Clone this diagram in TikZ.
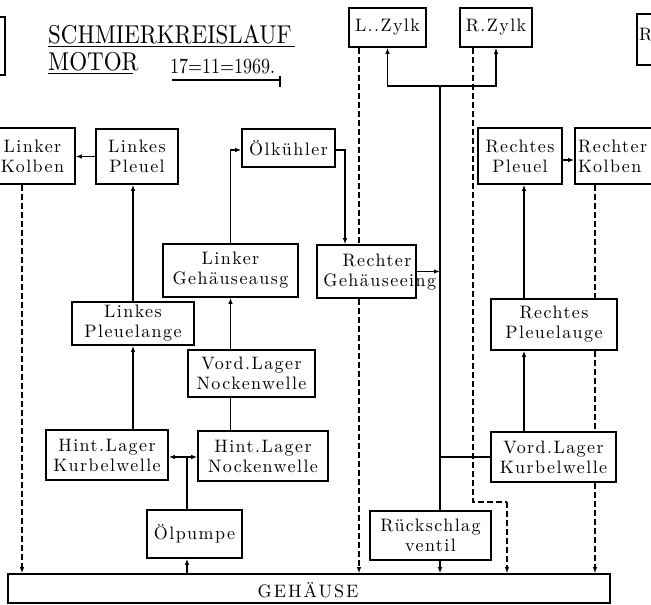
\documentclass[tikz,border=0pt]{standalone}
\usepackage{fontspec}
\usetikzlibrary{arrows.meta,calc}
\newfontfamily\spfont{lmroman10-regular.otf}[LetterSpace=8]
\newfontfamily\gfont{lmroman10-regular.otf}[LetterSpace=11]
\newfontfamily\tfont{lmroman10-regular.otf}
\newcommand\bx[6]{\node[box,minimum width=#4pt,minimum height=#5pt] (#1) at (#2,#3) {};\node[txt] (#1-t) at (#1) {#6};}
\begin{document}
\begin{tikzpicture}[x=1pt,y=-1pt,
 box/.style={draw,line width=1.6pt,fill=white,inner sep=0pt},
 txt/.style={inner sep=0pt,align=center,font=\spfont\fontsize{18}{20}\selectfont},
 tip/.style={-{Latex[length=6pt,width=4.5pt]}},
 arr/.style={line width=1.4pt,tip},
 ln/.style={line width=1.4pt},
 dsh/.style={line width=1.6pt,dash pattern=on 6pt off 3pt},
 darr/.style={dsh,tip}]
\useasboundingbox (0,0) rectangle (651,605);
\clip (0,0) rectangle (651,605);

% title
\node[anchor=base west,inner sep=0pt,font=\tfont\fontsize{23}{24}\selectfont] (title) at (48,43) {\scalebox{1}[1.12]{SCHMIERKREISLAUF}};
\node[anchor=base west,inner sep=0pt,font=\tfont\fontsize{23}{24}\selectfont] (motor) at (48,70) {\scalebox{1}[1.12]{MOTOR}};
\node[anchor=base west,inner sep=0pt,font=\tfont\fontsize{18}{20}\selectfont] (date) at (170,73) {\scalebox{1}[1.2]{17=11=1969.}};
\draw[line width=1.2pt] (title.base west) ++(0,3.5) -- ++(247,0);
\draw[line width=1.2pt] (motor.base west) ++(0,3.5) -- ++(85,0);
\draw[line width=1.2pt] (date.base west) ++(2,7) -- ++(108,0) coordinate (u3) -- ++(0,7);
\draw[line width=1.2pt] (u3) -- ++(0,-4);

% boxes
\bx{TL}{-7.5}{46}{25}{58}{}
\bx{LK}{32.5}{156}{85}{56}{Linker\\Kolben}
\bx{LP}{137}{156.5}{82}{55}{Linkes\\Pleuel}
\bx{OK}{288.5}{148}{93}{38}{Ölkühler}
\bx{LG}{230.5}{270.5}{135}{53}{Linker\\Gehäuseausg}
\bx{RG}{366.5}{271.5}{99}{53}{}
\node[txt] (RG-t) at (383,272) {\hspace*{-12pt}Rechter\\Gehäuseeing.};
\bx{LPA}{133}{323.5}{122}{43}{Linkes\\Pleuelange}
\bx{VN}{251.5}{373.5}{127}{47}{Vord.Lager\\Nockenwelle}
\bx{HK}{107}{455}{122}{50}{Hint.Lager\\Kurbelwelle}
\bx{HN}{263}{456}{130}{50}{Hint.Lager\\Nockenwelle}
\bx{OP}{194.5}{534}{95}{48}{Ölpumpe}
\bx{RV}{430.5}{535.5}{121}{49}{Rückschlag\\ventil}
\bx{RP}{520}{156}{84}{56}{Rechtes\\Pleuel}
\bx{RK}{622.5}{156}{95}{56}{}
\node[txt,anchor=west,align=left] (RK-t) at (578,156) {Rechter\\Kolben};
\bx{RPA}{554}{324.5}{126}{51}{Rechtes\\Pleuelauge}
\bx{VK}{553.5}{457}{125}{50}{Vord.Lager\\Kurbelwelle}
\bx{LZ}{387.5}{27.5}{77}{39}{L..Zylk}
\bx{RZ}{496}{27.5}{72}{39}{R.Zylk}
\bx{RC}{658.5}{39.5}{43}{51}{}
\node[txt,anchor=west] (RC-t) at (639,35) {R};
\node[draw,line width=1.6pt,fill=white,inner sep=0pt,minimum width=602pt,minimum height=29pt] (GH) at (309,588.5) {};
\node[inner sep=0pt,font=\gfont\fontsize{18}{18}\selectfont] (GH-t) at (308,590) {GEHÄUSE};

% coordinates
\coordinate (spt) at (440,86);
\coordinate (jn) at (187,457);
\coordinate (rzb) at (507,502);

% solid connectors
\draw[arr] (LP.west) -- (LP.west -| LK.east);
\draw[arr] (LPA.north) -- (LPA.north |- LP.south);
\draw[arr] (LPA.south |- HK.north) -- (LPA.south);
\draw[arr] (LG.south |- VN.north) -- (LG.south);
\draw[ln] (LG.south |- VN.south) -- (LG.south |- HN.north);
\draw[arr] (LG.north) |- ([yshift=-2pt]OK.west);
\draw[arr] ([yshift=-2pt]OK.east) -| ([xshift=-21.5pt]RG.north);
\draw[arr] (RG.east) -- (RG.east -| spt);
\draw[ln] (spt) -- (spt |- RV.north);
\draw[arr] (spt) -| (LZ.south);
\draw[arr] (spt) -| (RZ.south);
\draw[ln] (VK.west) -- (VK.west -| spt);
\draw[arr] ([xshift=-29.5pt]VK.north) -- ([xshift=-29.5pt]VK.north |- RPA.south);
\draw[arr] ([xshift=-30pt]RPA.north) -- ([xshift=-30pt]RPA.north |- RP.south);
\draw[arr] ([yshift=-4pt]RP.east) -- ([yshift=-4pt]RP.east -| RK.west);
\draw[ln] (jn |- OP.north) -- (jn);
\draw[arr] (jn) -- (jn -| HK.east);
\draw[arr] (jn) -- (jn -| HN.west);
\draw[arr] (jn |- GH.north) -- (jn |- OP.south);
\draw[arr] (spt |- RV.south) -- (spt |- GH.north);

% dashed connectors
\draw[darr] ([xshift=-10.5pt]LK.south) -- ([xshift=-10.5pt]LK.south |- GH.north);
\draw[dsh] ([xshift=-28.5pt]LZ.south) -- ([xshift=-28.5pt]LZ.south |- RG.north);
\draw[darr] ([xshift=-28.5pt]LZ.south |- RG.south) -- ([xshift=-28.5pt]LZ.south |- GH.north);
\draw[dsh] ([xshift=-23pt]RZ.south) -- ([xshift=-23pt]RZ.south |- rzb) -- (rzb);
\draw[darr] (rzb) -- (rzb |- GH.north);
\draw[dsh] ([xshift=-27.5pt]RK.south) -- ([xshift=-27.5pt]RK.south |- RPA.north);
\draw[dsh] ([xshift=-27.5pt]RK.south |- RPA.south) -- ([xshift=-27.5pt]RK.south |- VK.north);
\draw[darr] ([xshift=-27.5pt]RK.south |- VK.south) -- ([xshift=-27.5pt]RK.south |- GH.north);
\end{tikzpicture}
\end{document}
